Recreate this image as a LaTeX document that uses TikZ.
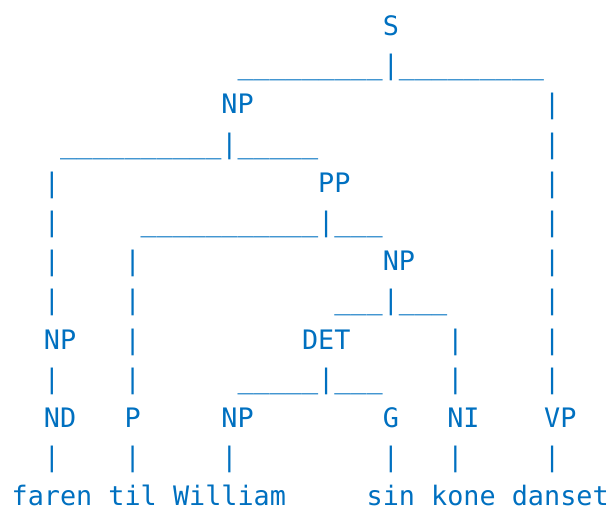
\documentclass[tikz,border=0pt]{standalone}
\usepackage{fontspec}
\newfontfamily\treefont{DejaVu Sans Mono}
\definecolor{treeblue}{RGB}{0,112,192}
\newcommand\tk[5][]{\node[tok,#1] (#2) at ({11.66+#3*16.135},{-35.5-(#4-1)*39.2}) {#5};}
\begin{document}
\begin{tikzpicture}[x=1pt,y=1pt,
  tok/.style={anchor=base west, inner sep=0pt, outer sep=0pt, text=treeblue,
    font=\treefont\fontsize{26.8}{30}\selectfont},
  leaf/.style={text depth=0pt}]
\useasboundingbox (0,0) rectangle (612,-513);
% row 1
\tk{S}{23}{1}{S}
% row 2
\tk{r2a}{14}{2}{\_\_\_\_\_\_\_\_\_}
\tk{r2b}{23}{2}{|}
\tk{r2c}{24}{2}{\_\_\_\_\_\_\_\_\_}
% row 3
\tk{NPa}{13}{3}{NP}
\tk{r3b}{33}{3}{|}
% row 4
\tk{r4a}{3}{4}{\_\_\_\_\_\_\_\_\_\_}
\tk{r4b}{13}{4}{|}
\tk{r4c}{14}{4}{\_\_\_\_\_}
\tk{r4d}{33}{4}{|}
% row 5
\tk{r5a}{2}{5}{|}
\tk{PP}{19}{5}{PP}
\tk{r5c}{33}{5}{|}
% row 6
\tk{r6a}{2}{6}{|}
\tk{r6b}{8}{6}{\_\_\_\_\_\_\_\_\_\_\_}
\tk{r6c}{19}{6}{|}
\tk{r6d}{20}{6}{\_\_\_}
\tk{r6e}{33}{6}{|}
% row 7
\tk{r7a}{2}{7}{|}
\tk{r7b}{7}{7}{|}
\tk{NPb}{23}{7}{NP}
\tk{r7d}{33}{7}{|}
% row 8
\tk{r8a}{2}{8}{|}
\tk{r8b}{7}{8}{|}
\tk{r8c}{20}{8}{\_\_\_}
\tk{r8d}{23}{8}{|}
\tk{r8e}{24}{8}{\_\_\_}
\tk{r8f}{33}{8}{|}
% row 9
\tk{NPc}{2}{9}{NP}
\tk{r9b}{7}{9}{|}
\tk{DET}{18}{9}{DET}
\tk{r9d}{27}{9}{|}
\tk{r9e}{33}{9}{|}
% row 10
\tk{r10a}{2}{10}{|}
\tk{r10b}{7}{10}{|}
\tk{r10c}{14}{10}{\_\_\_\_\_}
\tk{r10d}{19}{10}{|}
\tk{r10e}{20}{10}{\_\_\_}
\tk{r10f}{27}{10}{|}
\tk{r10g}{33}{10}{|}
% row 11
\tk{ND}{2}{11}{ND}
\tk{P}{7}{11}{P}
\tk{NPd}{13}{11}{NP}
\tk{G}{23}{11}{G}
\tk{NI}{27}{11}{NI}
\tk{VP}{33}{11}{VP}
% row 12
\tk{r12a}{2}{12}{|}
\tk{r12b}{7}{12}{|}
\tk{r12c}{13}{12}{|}
\tk{r12d}{23}{12}{|}
\tk{r12e}{27}{12}{|}
\tk{r12f}{33}{12}{|}
% row 13
\tk[leaf]{faren}{0}{13}{faren}
\tk[leaf]{til}{6}{13}{til}
\tk[leaf]{William}{10}{13}{William}
\tk[leaf]{sin}{22}{13}{sin}
\tk[leaf]{kone}{26}{13}{kone}
\tk[leaf]{danset}{31}{13}{danset}
\end{tikzpicture}
\end{document}
